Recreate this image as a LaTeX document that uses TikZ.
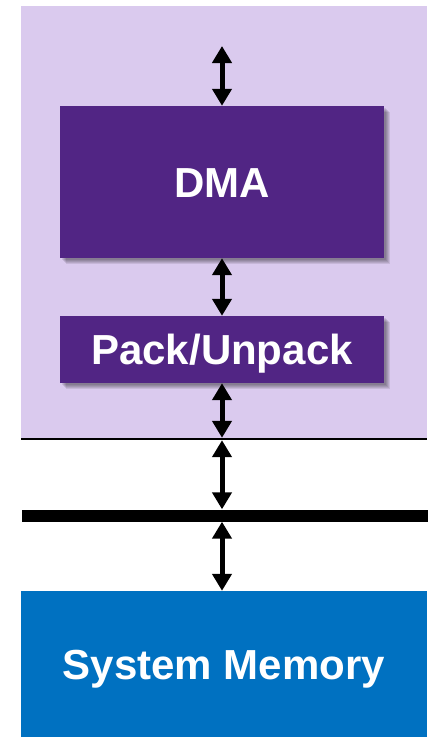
\documentclass[tikz,border=0pt]{standalone}
\usepackage{fontspec}
\setmainfont{Liberation Sans}
\usetikzlibrary{arrows.meta}
\definecolor{lavender}{RGB}{218,202,238}
\definecolor{dmapurple}{RGB}{81,37,132}
\definecolor{memblue}{RGB}{0,113,193}
\tikzset{
  label font/.style={font=\fontsize{42}{48}\selectfont\bfseries,
    text height=30pt, text depth=0pt},
  block/.style={fill=dmapurple, text=white, inner sep=0pt, minimum width=324pt,
    label font},
  region/.style={inner sep=0pt, minimum width=406pt},
  bus/.style={fill=black, inner sep=0pt, minimum width=406pt},
  link/.style={line width=5pt,
    {Triangle[width=19pt,length=17pt]}-{Triangle[width=19pt,length=17pt]}},
  softshadow/.style={fill=black, opacity=0.09},
}
\begin{document}
\begin{tikzpicture}[x=1pt,y=-1pt]
\useasboundingbox (0,0) rectangle (436,739);
\fill[white] (0,0) rectangle (436,739);

% processor region
\node[region, fill=lavender, minimum height=433pt] (soc) at (224,222.5) {};

% soft drop shadows under the two blocks
\foreach \o in {2,3,4,5,6} {
  \fill[softshadow] (60+\o,106+\o) rectangle (384+\o,258+\o);
  \fill[softshadow] (60+\o,316+\o) rectangle (384+\o,383+\o);
}

\node[block, minimum height=152pt] (dma) at (222,182) {DMA};
\node[block, minimum height=67pt] (pack) at (222,349.5) {Pack/Unpack};

% buses
\node[bus, minimum height=2pt] (sbus) at (224,439) {};
\node[bus, minimum height=12pt] (mbus) at (224.5,515.5) {};

% memory
\node[region, fill=memblue, minimum height=146pt, text=white, label font]
  (mem) at (224,664) {System Memory};

% connectors
\coordinate (top) at (222,46);
\draw[link] (top) -- (dma.north);
\draw[link] (dma.south) -- (pack.north);
\draw[link] (pack.south) -- (pack.south |- sbus.north);
\draw[link] (pack.south |- sbus.south) -- (pack.south |- mbus.north);
\draw[link] (pack.south |- mbus.south) -- (pack.south |- mem.north);
\end{tikzpicture}
\end{document}
